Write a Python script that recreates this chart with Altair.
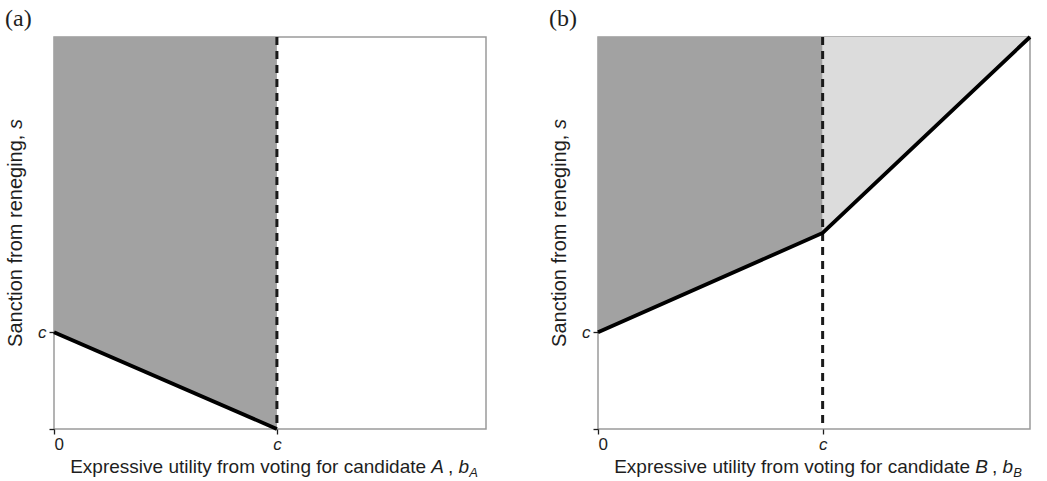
import altair as alt
import pandas as pd

# ---- data (unit axes 0..1) ----
panel_labels = ["(a)", "(b)"]
candidates = ["A", "B"]
c_x = [0.516, 0.52]          # position of c on the horizontal axis
c_y = [0.247, 0.247]         # position of c on the vertical axis
# boundary line of each panel
line_a_x = [0.0, 0.516]
line_a_y = [0.247, 0.0]
line_b_x = [0.0, 0.52, 1.0]
line_b_y = [0.247, 0.5, 1.0]
# shaded regions (x, lower boundary y); they reach up to the top (1.0)
dark_a_x = [0.0, 0.516]
dark_a_y = [0.247, 0.0]
dark_b_x = [0.0, 0.52]
dark_b_y = [0.247, 0.5]
light_b_x = [0.52, 1.0]
light_b_y = [0.5, 1.0]
area_top = 1.0

W, H = 432, 392
DARK, LIGHT = "#a2a2a2", "#dcdcdc"
FONT = "Liberation Sans"
TXT = "#1e1e1e"

# Arial / Liberation Sans advance widths (per 1000 em)
AW = {' ': 278, ',': 278, 'E': 667, 'x': 500, 'p': 556, 'r': 333, 'e': 556, 's': 500,
      'i': 222, 'v': 500, 'u': 556, 't': 278, 'l': 222, 'y': 500, 'f': 278, 'o': 556,
      'm': 833, 'g': 556, 'n': 556, 'c': 500, 'a': 556, 'd': 556, 'A': 667, 'B': 667,
      'b': 556, 'S': 667}


def tw(s, size):
    return sum(AW.get(ch, 556) for ch in s) * size / 1000.0


one = pd.DataFrame({"k": [0]})


def text_piece(txt, px, py, size, style="normal", angle=0, align="left",
               baseline="alphabetic", font=FONT):
    kw = dict(text=txt, fontSize=size, fontStyle=style, align=align,
              baseline=baseline, font=font, color=TXT)
    if angle:
        kw["angle"] = angle
    return alt.Chart(one).mark_text(**kw).encode(x=alt.value(px), y=alt.value(py))


def panel(idx, lx, ly, areas):
    cx, cy = c_x[idx], c_y[idx]
    xscale = alt.Scale(domain=[0, 1], nice=False, zero=False)
    yscale = alt.Scale(domain=[0, 1], nice=False, zero=False)
    xaxis = alt.Axis(values=[0, cx], labelExpr="datum.value == 0 ? '0' : 'c'",
                     title=None, grid=False, domain=False, tickSize=5,
                     tickColor=TXT, tickWidth=1.3, labelFontSize=17,
                     labelColor=TXT, labelPadding=2, labelFont=FONT,
                     labelFontStyle={"condition": {"test": "datum.value == 0", "value": "normal"},
                                     "value": "italic"})
    yaxis = alt.Axis(values=[0, cy], labelExpr="datum.value == 0 ? '' : 'c'",
                     title=None, grid=False, domain=False, tickSize=5,
                     tickColor=TXT, tickWidth=1.3, labelFontSize=17,
                     labelColor=TXT, labelPadding=3, labelFont=FONT,
                     labelFontStyle="italic")

    layers = []
    for ax, ay, col in areas:
        df = pd.DataFrame({"x": ax, "y": ay, "top": [area_top] * len(ax)})
        layers.append(
            alt.Chart(df).mark_area(color=col, opacity=1, interpolate="linear").encode(
                x=alt.X("x:Q", scale=xscale, axis=xaxis),
                y=alt.Y("y:Q", scale=yscale, axis=yaxis),
                y2=alt.Y2("top:Q"),
            )
        )
    layers.append(
        alt.Chart(one).mark_rule(color="#1a1a1a", strokeWidth=3, strokeDash=[8, 6]).encode(
            x=alt.datum(cx), y=alt.value(0), y2=alt.value(H)
        )
    )
    dfl = pd.DataFrame({"x": lx, "y": ly})
    layers.append(
        alt.Chart(dfl).mark_line(color="black", strokeWidth=3.8, strokeCap="butt").encode(
            x=alt.X("x:Q", scale=xscale, axis=xaxis),
            y=alt.Y("y:Q", scale=yscale, axis=yaxis),
        )
    )

    # x-axis title with italic pieces
    fs, sub = 19, 13
    main = "Expressive utility from voting for candidate "
    letter = candidates[idx]
    w_main = tw(main, fs)
    w_let = tw(letter, fs)
    w_com = tw(", ", fs)
    w_b = tw("b", fs)
    w_sub = tw(letter, sub)
    total = w_main + w_let + 4 + w_com + w_b + w_sub
    x0 = W / 2 - total / 2 + 4
    yb = H + 44
    layers.append(text_piece(main, x0, yb, fs))
    layers.append(text_piece(letter, x0 + w_main, yb, fs, "italic"))
    layers.append(text_piece(", ", x0 + w_main + w_let + 4, yb, fs))
    layers.append(text_piece("b", x0 + w_main + w_let + 4 + w_com, yb, fs, "italic"))
    layers.append(text_piece(letter, x0 + w_main + w_let + 4 + w_com + w_b, yb + 4, sub, "italic"))

    # y-axis title with italic s
    fy = 20
    ymain = "Sanction from reneging, "
    w_ym = tw(ymain, fy)
    w_s = tw("s", fy)
    ytot = w_ym + w_s
    ystart = H / 2 + ytot / 2
    xt = -32
    layers.append(text_piece(ymain, xt, ystart, fy, angle=270))
    layers.append(text_piece("s", xt, ystart - w_ym, fy, "italic", angle=270))

    # panel label
    layers.append(text_piece(panel_labels[idx], -49, -18, 24, font="Liberation Serif",
                             baseline="middle"))

    return alt.layer(*layers).properties(width=W, height=H)


pa = panel(0, line_a_x, line_a_y, [(dark_a_x, dark_a_y, DARK)])
pb = panel(1, line_b_x, line_b_y, [(dark_b_x, dark_b_y, DARK), (light_b_x, light_b_y, LIGHT)])

chart = alt.hconcat(pa, pb, spacing=61).properties(
    padding={"left": 4, "top": 6, "right": 5, "bottom": 5},
    background="white",
).configure_view(stroke="#9a9a9a", strokeWidth=1.5).configure_concat(spacing=61)

chart.save("out.html", embed_options={"renderer": "svg", "actions": False})
